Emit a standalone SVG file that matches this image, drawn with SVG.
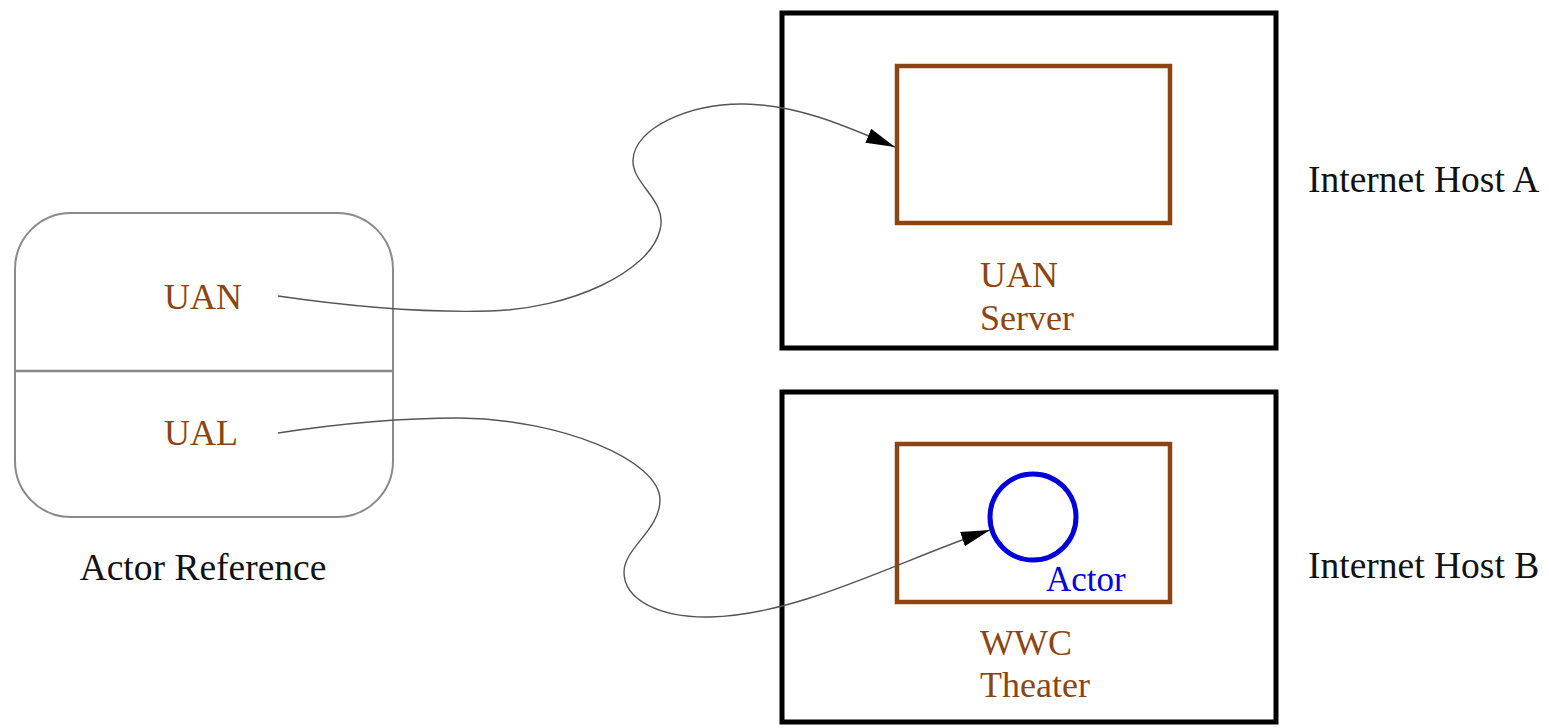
<svg xmlns="http://www.w3.org/2000/svg" width="1549" height="728" viewBox="0 0 1549 728">
<defs>
<style>
text{font-family:"Liberation Serif","Times New Roman",serif;font-size:36px}
.brown{fill:#8B4513}
.black{fill:#111;font-size:37.5px}
.host{fill:none;stroke:#000;stroke-width:5}
.inner{fill:none;stroke:#8B4513;stroke-width:4.5}
.edge{fill:none;stroke:#555;stroke-width:1.4}
</style>
<marker id="arr" markerUnits="userSpaceOnUse" markerWidth="32" markerHeight="16" refX="29" refY="7.5" orient="auto">
<path d="M0,0 L29,7.5 L0,15 z" fill="#000"/>
</marker>
</defs>
<rect width="1549" height="728" fill="#fff"/>
<g id="actor-reference">
<rect x="15" y="213" width="378" height="304" rx="56" ry="56" fill="#fff" stroke="#8a8a8a" stroke-width="2"/>
<line x1="15" y1="371" x2="393" y2="371" stroke="#8a8a8a" stroke-width="2.5"/>
<text class="brown" x="203" y="309" text-anchor="middle">UAN</text>
<text class="brown" x="201" y="445" text-anchor="middle">UAL</text>
<text class="black" x="203" y="580" text-anchor="middle">Actor Reference</text>
</g>
<g id="host-a">
<rect class="host" x="782" y="13" width="494" height="335"/>
<text class="black" x="1308" y="192">Internet Host A</text>
</g>
<g id="uan-server">
<rect class="inner" x="897" y="66" width="273" height="157"/>
<text class="brown" x="980" y="287">UAN</text>
<text class="brown" x="980" y="330">Server</text>
</g>
<g id="host-b">
<rect class="host" x="782" y="392" width="494" height="330"/>
<text class="black" x="1308" y="578">Internet Host B</text>
</g>
<g id="wwc-theater">
<rect class="inner" x="897" y="444" width="273" height="158"/>
<text class="brown" x="980" y="655">WWC</text>
<text class="brown" x="980" y="697">Theater</text>
</g>
<g id="actor">
<circle cx="1033" cy="517" r="43" fill="none" stroke="#0000dd" stroke-width="5"/>
<text x="1046" y="591" fill="#0000dd" style="font-size:35px">Actor</text>
</g>
<g id="connectors">
<path class="edge" marker-end="url(#arr)" d="M278,296 C340,305 420,313 490,311 C570,309 650,272 660,230 C668,200 632,185 633,160 C634,128 690,103 745,104 C800,105 850,128 895,147"/>
<path class="edge" marker-end="url(#arr)" d="M278,433 C330,425 400,418 460,418 C560,419 660,460 660,500 C660,530 624,548 624,572 C624,600 660,618 710,617 C800,615 900,560 990,530"/>
</g>
</svg>
